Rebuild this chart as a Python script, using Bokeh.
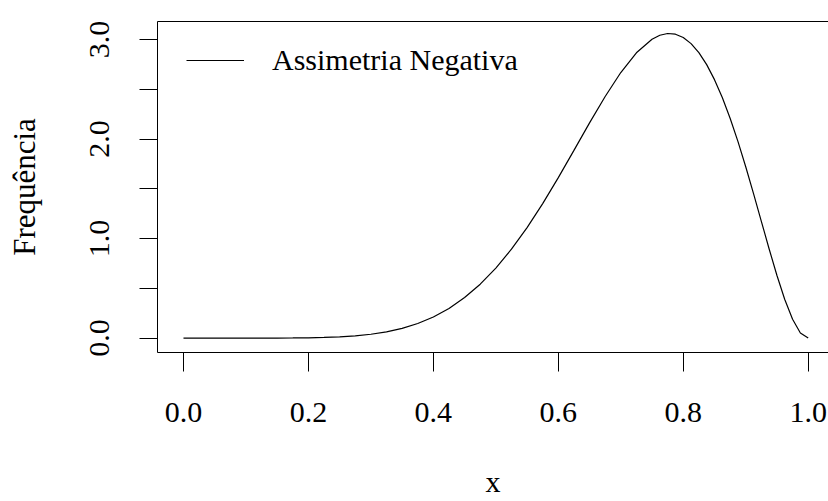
from bokeh.plotting import figure
from bokeh.models import LinearAxis, FixedTicker, Range1d, Legend, LegendItem
from bokeh.embed import file_html
from bokeh.resources import INLINE

# density curve (negatively skewed), sampled along x
x_vals = [0.0, 0.025, 0.05, 0.075, 0.1, 0.125, 0.15, 0.175, 0.2, 0.225,
          0.25, 0.275, 0.3, 0.325, 0.35, 0.375, 0.4, 0.425, 0.45, 0.475,
          0.5, 0.525, 0.55, 0.575, 0.6, 0.625, 0.65, 0.675, 0.7, 0.725,
          0.75, 0.7625, 0.775, 0.7875, 0.8, 0.8125, 0.825, 0.8375, 0.85,
          0.8625, 0.875, 0.8875, 0.9, 0.9125, 0.925, 0.9375, 0.95, 0.9625,
          0.975, 0.9875, 1.0]
density = [0.0, 0.0, 0.0, 0.0, 0.0, 0.0001, 0.0004, 0.0012, 0.0029, 0.0063,
           0.0124, 0.0225, 0.0386, 0.0628, 0.0979, 0.1467, 0.2123, 0.2981, 0.4069, 0.5414,
           0.7031, 0.8929, 1.1099, 1.3513, 1.6124, 1.8859, 2.1619, 2.4277, 2.6683, 2.8665,
           3.0033, 3.0429, 3.0604, 3.0534, 3.0199, 2.9587, 2.8678, 2.7475, 2.5967,
           2.4166, 2.2089, 1.9760, 1.7219, 1.4519, 1.1733, 0.8951, 0.6285, 0.3874,
           0.1885, 0.0515, 0.0]

series_name = "Assimetria Negativa"
x_title = "x"
y_title = "Frequência"

x_ticks = [0.0, 0.2, 0.4, 0.6, 0.8, 1.0]
x_tick_labels = ["0.0", "0.2", "0.4", "0.6", "0.8", "1.0"]
y_ticks = [0.0, 0.5, 1.0, 1.5, 2.0, 2.5, 3.0]
y_tick_labels = ["0.0", "", "1.0", "", "2.0", "", "3.0"]

FONT = "'Liberation Serif', 'Times New Roman', serif"
TICK_SIZE = "30px"
TITLE_SIZE = "31px"
LEGEND_SIZE = "30px"

p = figure(
    width=828, height=501,
    x_range=Range1d(-0.0416, 1.0325),
    y_range=Range1d(-0.145, 3.181),
    min_border_left=157, min_border_right=0,
    min_border_top=21, min_border_bottom=149,
    output_backend="svg", toolbar_location=None,
    x_axis_label=x_title, y_axis_label=y_title,
)
p.background_fill_color = "white"
p.border_fill_color = "white"
p.outline_line_color = None
p.xgrid.visible = False
p.ygrid.visible = False

xa = p.xaxis[0]
xa.ticker = FixedTicker(ticks=x_ticks)
xa.major_label_overrides = dict(zip(x_ticks, x_tick_labels))
ya = p.yaxis[0]
ya.ticker = FixedTicker(ticks=y_ticks)
ya.major_label_overrides = dict(zip(y_ticks, y_tick_labels))
ya.major_label_orientation = "vertical"

for ax in (xa, ya):
    ax.axis_line_color = "black"
    ax.axis_line_width = 1
    ax.major_tick_line_color = "black"
    ax.major_tick_line_width = 1
    ax.major_tick_in = 0
    ax.minor_tick_line_color = None
    ax.major_label_text_font = FONT
    ax.major_label_text_font_size = TICK_SIZE
    ax.major_label_text_color = "black"
    ax.axis_label_text_font = FONT
    ax.axis_label_text_font_size = TITLE_SIZE
    ax.axis_label_text_font_style = "normal"
    ax.axis_label_text_color = "black"

xa.axis_label_text_font_size = "30px"
xa.major_tick_out = 19
xa.major_label_standoff = 31
xa.axis_label_standoff = 40
ya.major_tick_out = 18
ya.major_label_standoff = 30
ya.axis_label_standoff = 46

# top edge of the box
top = LinearAxis(ticker=FixedTicker(ticks=[]))
top.axis_line_color = "black"
top.axis_line_width = 1
top.major_tick_line_color = None
top.minor_tick_line_color = None
top.major_label_text_alpha = 0
top.major_label_text_font_size = "1px"
p.add_layout(top, "above")

r = p.line(x_vals, density, line_color="black", line_width=1.2)

legend = Legend(
    items=[LegendItem(label=series_name, renderers=[r])],
    location=(29, 272),
    glyph_width=58, glyph_height=40, label_height=40,
    label_standoff=28, padding=0, margin=0, spacing=0,
    border_line_color=None, background_fill_alpha=0,
    label_text_font=FONT, label_text_font_size=LEGEND_SIZE,
    label_text_color="black",
)
p.add_layout(legend, "center")

open("out.html", "w").write(file_html(p, INLINE))
